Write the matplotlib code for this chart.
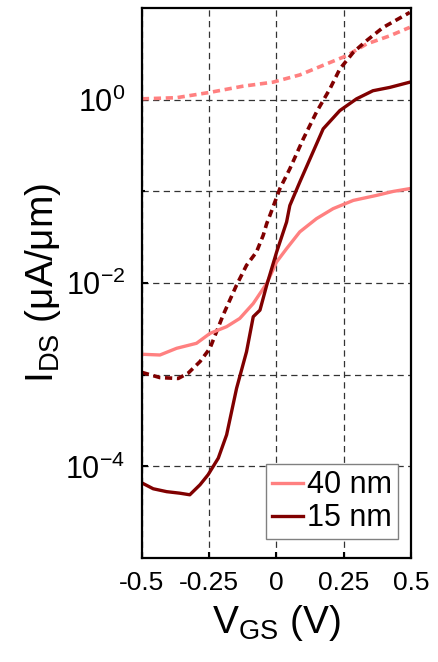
import numpy as np
import matplotlib
matplotlib.use('Agg')
import matplotlib.pyplot as plt
from matplotlib.ticker import FixedLocator, LogFormatterMathtext, NullFormatter

plt.rcParams['font.family'] = ['Liberation Sans', 'DejaVu Sans']
plt.rcParams['mathtext.fontset'] = 'custom'
plt.rcParams['mathtext.rm'] = 'Liberation Sans'
plt.rcParams['mathtext.it'] = 'Liberation Sans'
plt.rcParams['mathtext.default'] = 'regular'

#%% Data (V_GS in V, I_DS in uA/um)

# 40 nm, solid
v40 = [-0.5, -0.433, -0.371, -0.297, -0.247, -0.185, -0.136, -0.086, -0.036,
       0.001, 0.038, 0.087, 0.149, 0.211, 0.286, 0.372, 0.434, 0.496]
i40 = [1.67e-3, 1.64e-3, 1.94e-3, 2.20e-3, 2.82e-3, 3.34e-3, 4.11e-3, 5.98e-3,
       9.88e-3, 1.70e-2, 2.37e-2, 3.61e-2, 5.03e-2, 6.47e-2, 7.96e-2, 9.02e-2,
       9.97e-2, 0.107]

# 40 nm, dashed
v40d = [-0.5, -0.371, -0.247, -0.125, -0.013, 0.087, 0.186, 0.261, 0.335,
        0.422, 0.496]
i40d = [1.02, 1.05, 1.20, 1.40, 1.55, 1.86, 2.45, 3.01, 4.04, 4.97, 6.14]

# 15 nm, solid
v15 = [-0.5, -0.458, -0.408, -0.359, -0.322, -0.284, -0.254, -0.216, -0.185,
       -0.148, -0.111, -0.086, -0.061, -0.036, 0.001, 0.038, 0.050, 0.087,
       0.125, 0.174, 0.236, 0.298, 0.359, 0.422, 0.496]
i15 = [6.6e-5, 5.7e-5, 5.3e-5, 5.1e-5, 4.9e-5, 6.3e-5, 8.1e-5, 1.23e-4,
       2.21e-4, 7.1e-4, 1.78e-3, 4.29e-3, 5.06e-3, 9.46e-3, 2.18e-2, 4.63e-2,
       7.0e-2, 0.126, 0.226, 0.48, 0.76, 1.02, 1.25, 1.36, 1.55]

# 15 nm, dashed
v15d = [-0.5, -0.433, -0.365, -0.328, -0.284, -0.247, -0.198, -0.148, -0.111,
        -0.074, -0.049, -0.036, -0.024, 0.013, 0.050, 0.100, 0.149, 0.199,
        0.236, 0.286, 0.335, 0.397, 0.496]
i15d = [1.06e-3, 9.3e-4, 9.1e-4, 1.04e-3, 1.39e-3, 1.94e-3, 4.47e-3, 9.5e-3,
        1.56e-2, 2.18e-2, 3.31e-2, 4.44e-2, 5.47e-2, 0.107, 0.176, 0.373,
        0.73, 1.31, 2.16, 3.28, 4.39, 6.13, 8.93]

labels = ['40 nm', '15 nm']
xticks = [-0.5, -0.25, 0, 0.25, 0.5]
xticklabels = ['-0.5', '-0.25', '0', '0.25', '0.5']

c40 = '#ff8080'
c15 = '#800000'

#%% Plot
fig = plt.figure(figsize=(4.38, 6.62), dpi=100)
ax = fig.add_axes([0.324, 0.157, 0.614, 0.831])

ax.plot(v40d, i40d, color=c40, lw=2.6, dashes=(2, 1.3))
ax.plot(v15d, i15d, color=c15, lw=2.6, dashes=(2, 1.3))
ax.plot(v40, i40, color=c40, lw=2.4, label=labels[0])
ax.plot(v15, i15, color=c15, lw=2.4, label=labels[1])

ax.set_yscale('log')
ax.set_xlim(-0.5, 0.5)
ax.set_ylim(1e-5, 1e1)
ax.set_xticks(xticks)
ax.set_xticklabels(xticklabels)
ax.yaxis.set_major_locator(FixedLocator([1e-4, 1e-2, 1e0]))
ax.yaxis.set_major_formatter(LogFormatterMathtext())
ax.yaxis.set_minor_locator(FixedLocator([1e-3, 1e-1]))
ax.yaxis.set_minor_formatter(NullFormatter())

ax.grid(True, which='both', color='#333333', lw=0.9, dashes=(5, 3.5))
ax.tick_params(which='both', direction='in', width=1.5, length=4,
               top=False, right=False)
ax.tick_params(axis='x', labelsize=19, pad=9)
ax.tick_params(axis='y', labelsize=22, pad=12)
ax.tick_params(which='minor', length=2)
for s in ax.spines.values():
    s.set_linewidth(1.6)

ax.set_xlabel(r'V$_{\rm GS}$ (V)', fontsize=28, labelpad=6)
ax.set_ylabel(r'I$_{\rm DS}$ (μA/μm)', fontsize=28, labelpad=2)

leg = ax.legend(loc='lower right', bbox_to_anchor=(0.953, 0.034),
                borderaxespad=0, fontsize=22, handlelength=1.0,
                handletextpad=0.15, fancybox=False, framealpha=1,
                borderpad=0.2, labelspacing=0.1)
leg.get_frame().set_edgecolor('#808080')
leg.get_frame().set_linewidth(1.0)

plt.savefig('out.png', dpi=100)
